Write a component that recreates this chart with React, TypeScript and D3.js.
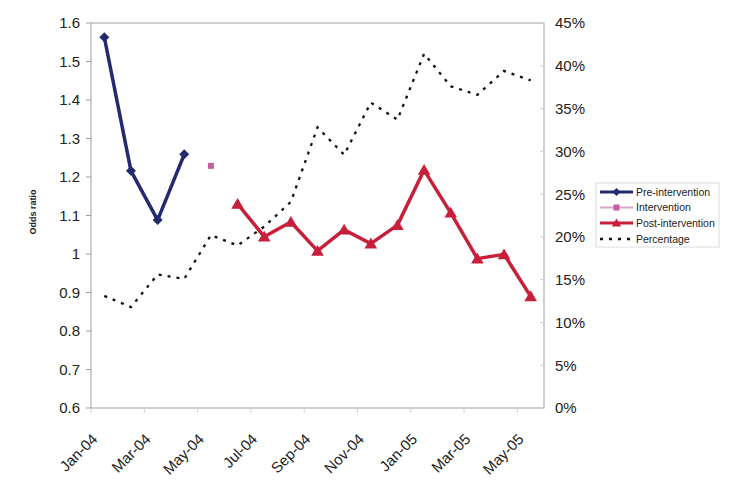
import React from "react";
import * as d3 from "d3";

const categories = ["Jan-04","Feb-04","Mar-04","Apr-04","May-04","Jun-04","Jul-04","Aug-04","Sep-04","Oct-04","Nov-04","Dec-04","Jan-05","Feb-05","Mar-05","Apr-05","May-05"];
const preCats = ["Jan-04","Feb-04","Mar-04","Apr-04"];
const preValues = [1.563, 1.216, 1.088, 1.259];
const interventionCats = ["May-04"];
const interventionValues = [1.229];
const postCats = ["Jun-04","Jul-04","Aug-04","Sep-04","Oct-04","Nov-04","Dec-04","Jan-05","Feb-05","Mar-05","Apr-05","May-05"];
const postValues = [1.13, 1.045, 1.083, 1.008, 1.063, 1.027, 1.075, 1.218, 1.107, 0.988, 0.999, 0.89];
const percentValues = [13.1, 11.8, 15.6, 15.1, 20.2, 19.0, 21.2, 24.1, 32.8, 29.6, 35.7, 33.7, 41.4, 37.6, 36.6, 39.4, 38.3];
const leftTicks = [0.6, 0.7, 0.8, 0.9, 1, 1.1, 1.2, 1.3, 1.4, 1.5, 1.6];
const rightTicks = [0, 5, 10, 15, 20, 25, 30, 35, 40, 45];
const legendLabels = ["Pre-intervention", "Intervention", "Post-intervention", "Percentage"];

const W = 738, H = 492;
const plot = { left: 91, right: 544, top: 23, bottom: 408 };
const NAVY = "#232a6e";
const PINK = "#c4609e";
const RED = "#c8203a";
const AXIS = "#a0a0a0";
const FONT = "'Liberation Sans', Arial, sans-serif";

export default function App() {
  const x = d3.scaleBand<string>().domain(categories).range([plot.left, plot.right]).padding(0);
  const cx = (c: string) => (x(c) as number) + x.bandwidth() / 2;
  const yL = d3.scaleLinear().domain([0.6, 1.6]).range([plot.bottom, plot.top]);
  const yR = d3.scaleLinear().domain([0, 45]).range([plot.bottom, plot.top]);

  const line = d3.line<[number, number]>().x(d => d[0]).y(d => d[1]);
  const prePts: [number, number][] = preCats.map((c, i) => [cx(c), yL(preValues[i])]);
  const postPts: [number, number][] = postCats.map((c, i) => [cx(c), yL(postValues[i])]);
  const pctPts: [number, number][] = categories.map((c, i) => [cx(c), yR(percentValues[i])]);

  const diamond = (s: number) => `M0,${-s}L${s},0L0,${s}L${-s},0Z`;
  const triangle = (s: number) => `M0,${-s}L${s * 1.05},${s * 0.8}L${-s * 1.05},${s * 0.8}Z`;

  const tickCats = categories.filter((_, i) => i % 2 === 0);
  const boundaryTicks = d3.range(0, categories.length + 1, 2).map(i => plot.left + i * x.bandwidth());

  const legX = 596, legY = 183;
  const rowY = [192, 207.5, 223, 239];

  return (
    <svg width={W} height={H} style={{ position: "absolute", left: 0, top: 0, background: "#fff" }} fontFamily={FONT}>
      <rect x={0} y={0} width={W} height={H} fill="#fff" />
      <rect x={plot.left} y={plot.top} width={plot.right - plot.left} height={plot.bottom - plot.top} fill="none" stroke={AXIS} strokeWidth={1} />
      {leftTicks.map(t => (
        <g key={"l" + t}>
          <line x1={plot.left - 5} x2={plot.left} y1={yL(t)} y2={yL(t)} stroke={AXIS} />
          <text x={80} y={yL(t)} dy="0.36em" textAnchor="end" fontSize={15} fill="#222">{String(t)}</text>
        </g>
      ))}
      {rightTicks.map(t => (
        <g key={"r" + t}>
          <line x1={plot.right - 4} x2={plot.right} y1={yR(t)} y2={yR(t)} stroke="#d0d0d0" />
          <text x={555} y={yR(t)} dy="0.36em" textAnchor="start" fontSize={15} fill="#222">{t + "%"}</text>
        </g>
      ))}
      {boundaryTicks.map((bx, i) => (
        <line key={"b" + i} x1={bx} x2={bx} y1={plot.bottom} y2={plot.bottom + 5} stroke="#d0d0d0" />
      ))}
      {tickCats.map(c => (
        <text key={c} transform={`translate(${cx(c) - 6},${440}) rotate(-45)`} textAnchor="end" fontSize={15} fill="#222">{c}</text>
      ))}
      <text transform={`translate(36,212) rotate(-90)`} textAnchor="middle" fontSize={9} fontWeight="bold" fill="#222">Odds ratio</text>

      <path d={line(pctPts) || ""} fill="none" stroke="#111" strokeWidth={2.3} strokeDasharray="3,6" />
      <path d={line(prePts) || ""} fill="none" stroke={NAVY} strokeWidth={3.5} strokeLinejoin="round" />
      {prePts.map((p, i) => <path key={"pd" + i} d={diamond(5)} transform={`translate(${p[0]},${p[1]})`} fill={NAVY} />)}
      {interventionCats.map((c, i) => (
        <rect key={"iv" + i} x={cx(c) - 3} y={yL(interventionValues[i]) - 3} width={6} height={6} fill={PINK} />
      ))}
      <path d={line(postPts) || ""} fill="none" stroke={RED} strokeWidth={3.5} strokeLinejoin="round" />
      {postPts.map((p, i) => <path key={"pt" + i} d={triangle(6)} transform={`translate(${p[0]},${p[1]})`} fill={RED} />)}

      <rect x={legX} y={legY} width={123} height={64} fill="#fff" stroke="#dcdcdc" />
      <line x1={600} x2={633} y1={rowY[0]} y2={rowY[0]} stroke={NAVY} strokeWidth={3} />
      <path d={diamond(4)} transform={`translate(616.5,${rowY[0]})`} fill={NAVY} />
      <line x1={600} x2={633} y1={rowY[1]} y2={rowY[1]} stroke="#d9a6c8" strokeWidth={2} />
      <rect x={613.5} y={rowY[1] - 3} width={6} height={6} fill={PINK} />
      <line x1={600} x2={633} y1={rowY[2]} y2={rowY[2]} stroke={RED} strokeWidth={3} />
      <path d={triangle(4.5)} transform={`translate(616.5,${rowY[2]})`} fill={RED} />
      <line x1={600} x2={633} y1={rowY[3]} y2={rowY[3]} stroke="#111" strokeWidth={2.5} strokeDasharray="3,6" />
      {legendLabels.map((l, i) => (
        <text key={l} x={636} y={rowY[i]} dy="0.36em" fontSize={10.5} fill="#222">{l}</text>
      ))}
    </svg>
  );
}
